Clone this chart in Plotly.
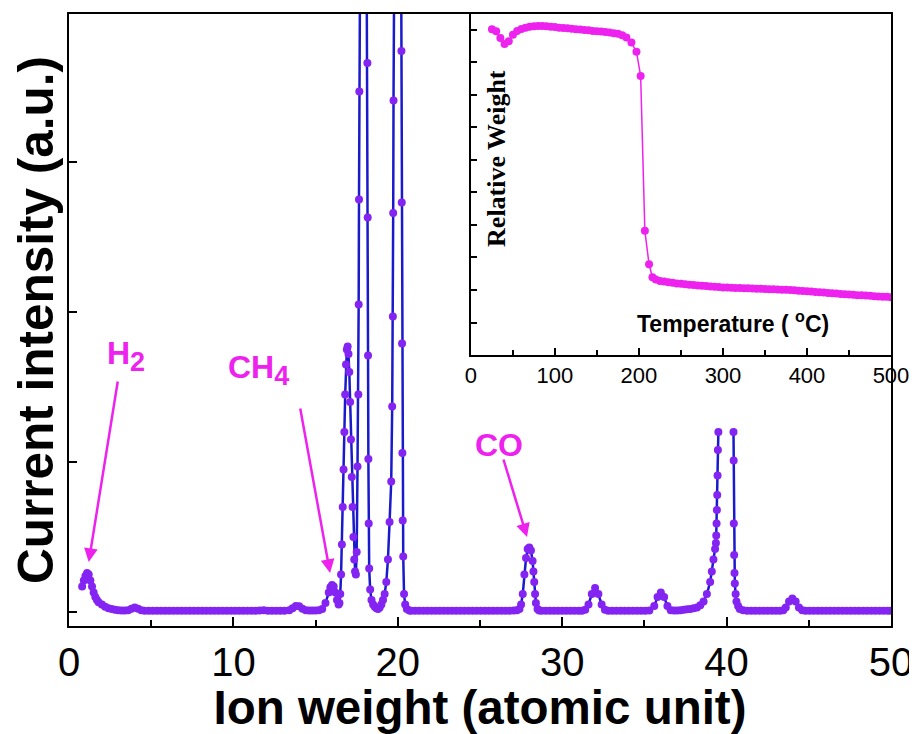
import plotly.graph_objects as go

# ---------------- Mass spectrum (main panel) ----------------
h2_mz = [0.8, 0.9, 1.0, 1.1, 1.2, 1.3, 1.4, 1.5, 1.6, 1.7, 1.8, 2.0, 2.2, 2.4, 2.6, 2.8,
         3.0, 3.2, 3.4, 3.6, 3.8, 4.0, 4.2, 4.4]
h2_int = [0.17, 0.21, 0.24, 0.26, 0.25, 0.21, 0.17, 0.13, 0.10, 0.08, 0.065, 0.05, 0.035, 0.025, 0.02, 0.015,
          0.012, 0.01, 0.01, 0.012, 0.022, 0.03, 0.022, 0.012]

base1_mz = [4.6, 4.85, 5.1, 5.35, 5.6, 5.85, 6.1, 6.35, 6.6, 6.85, 7.1, 7.35, 7.6, 7.85, 8.1, 8.35,
            8.6, 8.85, 9.1, 9.35, 9.6, 9.85, 10.1, 10.35, 10.6, 10.85, 11.1, 11.35, 11.6, 11.85,
            12.1, 12.35, 12.6, 12.85, 13.1]
base1_int = [0.008, 0.008, 0.008, 0.008, 0.008, 0.008, 0.008, 0.008, 0.008, 0.008, 0.008, 0.008,
             0.008, 0.008, 0.008, 0.008, 0.008, 0.008, 0.008, 0.008, 0.008, 0.008, 0.008, 0.008,
             0.008, 0.008, 0.008, 0.009, 0.011, 0.012, 0.009, 0.008, 0.008, 0.008, 0.009]

ch4_mz = [13.4, 13.6, 13.8, 14.0, 14.2, 14.4, 14.6, 14.8, 15.0, 15.2, 15.4, 15.6, 15.8, 15.9,
          16.0, 16.1, 16.2, 16.3, 16.4, 16.45, 16.5]
ch4_int = [0.012, 0.025, 0.04, 0.038, 0.022, 0.012, 0.01, 0.01, 0.01, 0.012, 0.02, 0.06, 0.13, 0.165,
           0.18, 0.17, 0.13, 0.08, 0.05, 0.06, 0.12]

water_mz = [16.55, 16.6, 16.65, 16.7, 16.75, 16.8, 16.85, 16.9, 16.95, 17.0, 17.05, 17.1, 17.15,
            17.2, 17.25, 17.3, 17.35, 17.4, 17.45, 17.5, 17.55, 17.6, 17.62, 17.64, 17.66, 17.75,
            17.9, 18.05, 18.15, 18.17, 18.19, 18.21, 18.23, 18.26, 18.32, 18.4, 18.5, 18.6, 18.7,
            18.8, 18.9, 19.0, 19.1, 19.2, 19.3, 19.4, 19.5, 19.6, 19.66, 19.7, 19.72, 19.74, 19.85,
            20.0, 20.15, 20.22, 20.24, 20.26, 20.28, 20.3, 20.33, 20.38, 20.45, 20.55, 20.7]
water_int = [0.25, 0.45, 0.7, 0.95, 1.2, 1.45, 1.65, 1.75, 1.77, 1.72, 1.6, 1.4, 1.15,
             0.9, 0.7, 0.5, 0.35, 0.27, 0.25, 0.4, 0.97, 1.45, 2.05, 2.75, 3.47, 6.0,
             9.0, 6.0, 3.66, 2.63, 1.71, 1.02, 0.59, 0.29, 0.15, 0.08, 0.05, 0.035, 0.025,
             0.02, 0.03, 0.05, 0.08, 0.12, 0.2, 0.35, 0.6, 0.87, 1.37, 1.97, 2.66, 3.41, 6.0,
             9.0, 6.0, 3.74, 2.73, 1.79, 1.06, 0.61, 0.37, 0.12, 0.05, 0.02, 0.01]

base2_mz = [20.8, 21.05, 21.3, 21.55, 21.8, 22.05, 22.3, 22.55, 22.8, 23.05, 23.3, 23.55, 23.8,
            24.05, 24.3, 24.55, 24.8, 25.05, 25.3, 25.55, 25.8, 26.05, 26.3, 26.55, 26.8, 27.05, 27.25]
base2_int = [0.008, 0.008, 0.008, 0.008, 0.008, 0.008, 0.008, 0.008, 0.008, 0.008, 0.008, 0.008,
             0.008, 0.008, 0.008, 0.008, 0.008, 0.008, 0.008, 0.008, 0.008, 0.008, 0.008, 0.009,
             0.009, 0.01, 0.012]

co_mz = [27.4, 27.5, 27.6, 27.7, 27.8, 27.9, 28.0, 28.1, 28.2, 28.25, 28.3, 28.35, 28.4, 28.5, 28.6]
co_int = [0.02, 0.05, 0.12, 0.25, 0.36, 0.42, 0.43, 0.41, 0.34, 0.27, 0.2, 0.12, 0.06, 0.02, 0.01]

base3_mz = [28.75, 29.0, 29.25, 29.5, 29.75, 30.0, 30.25, 30.5, 30.75, 31.0, 31.2]
base3_int = [0.008, 0.008, 0.008, 0.009, 0.009, 0.008, 0.008, 0.008, 0.008, 0.008, 0.009]

o2_mz = [31.4, 31.6, 31.8, 32.0, 32.2, 32.4, 32.6]
o2_int = [0.015, 0.05, 0.12, 0.16, 0.12, 0.05, 0.015]

base4_mz = [32.8, 33.05, 33.3, 33.55, 33.8, 34.05, 34.3, 34.55, 34.8, 35.05, 35.3]
base4_int = [0.009, 0.008, 0.008, 0.008, 0.008, 0.008, 0.008, 0.008, 0.008, 0.008, 0.01]

p36_mz = [35.6, 35.8, 36.0, 36.2, 36.4, 36.6, 36.8, 37.0, 37.2, 37.4, 37.6, 37.8, 38.0, 38.2, 38.4,
          38.6, 38.8, 39.0, 39.1, 39.2, 39.3, 39.35, 39.37, 39.39, 39.41, 39.43, 39.45, 39.47, 39.5]
p36_int = [0.04, 0.10, 0.13, 0.10, 0.04, 0.012, 0.01, 0.01, 0.012, 0.015, 0.018, 0.02, 0.025, 0.03, 0.045,
           0.07, 0.12, 0.2, 0.27, 0.35, 0.42, 0.46, 0.51, 0.59, 0.68, 0.78, 0.91, 1.08, 1.2]

ar_mz = [40.42, 40.43, 40.44, 40.46, 40.48, 40.5, 40.55, 40.6, 40.7, 40.8, 41.0]
ar_int = [1.2, 1.01, 0.59, 0.38, 0.26, 0.19, 0.12, 0.07, 0.04, 0.02, 0.012]

base5_mz = [41.25, 41.5, 41.75, 42.0, 42.25, 42.5, 42.75, 43.0, 43.25, 43.45]
base5_int = [0.009, 0.008, 0.008, 0.008, 0.008, 0.008, 0.008, 0.008, 0.009, 0.012]

co2_mz = [43.6, 43.8, 44.0, 44.2, 44.4, 44.6]
co2_int = [0.03, 0.07, 0.09, 0.07, 0.03, 0.012]

base6_mz = [44.8, 45.05, 45.3, 45.55, 45.8, 46.05, 46.3, 46.55, 46.8, 47.05, 47.3, 47.55, 47.8,
            48.05, 48.3, 48.55, 48.8, 49.05, 49.3, 49.55, 49.8, 50.0]
base6_int = [0.009, 0.008, 0.008, 0.008, 0.008, 0.008, 0.008, 0.008, 0.008, 0.008, 0.008, 0.008,
             0.008, 0.008, 0.008, 0.008, 0.008, 0.008, 0.008, 0.008, 0.008, 0.008]

mz = (h2_mz + base1_mz + ch4_mz + water_mz + base2_mz + co_mz + base3_mz + o2_mz + base4_mz
      + p36_mz + [None] + ar_mz + base5_mz + co2_mz + base6_mz)
intensity = (h2_int + base1_int + ch4_int + water_int + base2_int + co_int + base3_int + o2_int
             + base4_int + p36_int + [None] + ar_int + base5_int + co2_int + base6_int)

main_xticks = [0, 10, 20, 30, 40, 50]
main_yticks = [0, 1, 2, 3]

# ---------------- TGA inset ----------------
temp = [25, 30, 35, 40, 45, 50, 55, 60, 65, 70, 75, 80, 85, 90, 95, 100, 105, 110, 115, 120,
        125, 130, 135, 140, 145, 150, 155, 160, 165, 170, 175, 180, 185, 191, 197, 202, 207, 212,
        216, 220, 225, 230, 235, 240, 245, 250, 255, 260, 265, 270, 275, 280, 285, 290, 295, 300,
        305, 310, 315, 320, 325, 330, 335, 340, 345, 350, 355, 360, 365, 370, 375, 380, 385, 390,
        395, 400, 405, 410, 415, 420, 425, 430, 435, 440, 445, 450, 455, 460, 465, 470, 475, 480,
        485, 490, 495, 500]
weight = [1.002, 0.996, 0.975, 0.957, 0.965, 0.985, 0.997, 1.003, 1.007, 1.010, 1.011, 1.012,
          1.012, 1.011, 1.010, 1.009, 1.007, 1.006, 1.005, 1.004, 1.002, 1.001, 1.000, 0.999,
          0.997, 0.996, 0.995, 0.994, 0.992, 0.990, 0.988, 0.984, 0.977, 0.961, 0.933, 0.858,
          0.382, 0.279, 0.239, 0.232, 0.228, 0.226, 0.224, 0.222, 0.220, 0.219, 0.218, 0.216,
          0.215, 0.214, 0.213, 0.212, 0.211, 0.210, 0.209, 0.208, 0.2075, 0.207, 0.2065, 0.206,
          0.2055, 0.205, 0.2045, 0.204, 0.2035, 0.203, 0.2025, 0.202, 0.2015, 0.201, 0.2005,
          0.200, 0.199, 0.198, 0.197, 0.196, 0.195, 0.194, 0.193, 0.192, 0.191, 0.190, 0.189,
          0.188, 0.187, 0.186, 0.185, 0.184, 0.1835, 0.183, 0.182, 0.181, 0.180, 0.1795, 0.179,
          0.178]
inset_xticks = [0, 100, 200, 300, 400, 500]
inset_yticks = [0.1, 0.2, 0.3, 0.4, 0.5, 0.6, 0.7, 0.8, 0.9, 1.0]

MAGENTA = "#EE22EE"
SANS = "Liberation Sans, Arial, sans-serif"

fig = go.Figure()
fig.add_trace(go.Scatter(
    x=mz, y=intensity, mode="lines+markers", connectgaps=False,
    line=dict(color="#1A1ACD", width=2.5),
    marker=dict(color="#8424F2", size=8),
    showlegend=False, hoverinfo="skip"))
fig.add_trace(go.Scatter(
    x=temp, y=weight, xaxis="x2", yaxis="y2", mode="lines+markers",
    line=dict(color=MAGENTA, width=1.5),
    marker=dict(color=MAGENTA, size=8),
    showlegend=False, hoverinfo="skip"))

axis_common = dict(showline=True, linecolor="black", linewidth=2, showgrid=False,
                   zeroline=False, ticks="inside", tickcolor="black", tickwidth=2,
                   automargin=False)

# The page body adds an 8px offset, so the figure is 8px smaller than the window.
fig.update_layout(
    template="none",
    width=909, height=726,
    margin=dict(l=61, r=26, t=6, b=108),
    paper_bgcolor="white", plot_bgcolor="white",
    xaxis=dict(axis_common, domain=[0, 1], range=[0, 50], tickmode="array",
               tickvals=main_xticks, ticklen=9, mirror=True,
               minor=dict(dtick=5, ticks="inside", ticklen=6, tickwidth=2, tickcolor="black"),
               tickfont=dict(family=SANS, size=40, color="black"),
               title=dict(text="<b>Ion weight (atomic unit)</b>", standoff=0,
                          font=dict(family=SANS, size=47.5, color="black"))),
    yaxis=dict(axis_common, domain=[0, 1], range=[-0.093, 3.987], tickmode="array",
               tickvals=main_yticks, ticklen=8, mirror=True, showticklabels=False,
               title=dict(text="<b>Current intensity (a.u.)</b>", standoff=3,
                          font=dict(family=SANS, size=49.5, color="black"))),
    xaxis2=dict(axis_common, domain=[0.489, 1.0], anchor="y2", range=[0, 500], tickmode="array",
                tickvals=inset_xticks, ticklen=7,
                minor=dict(dtick=50, ticks="inside", ticklen=5, tickwidth=2, tickcolor="black"),
                tickfont=dict(family=SANS, size=22, color="black")),
    yaxis2=dict(axis_common, domain=[0.4428, 1.0], anchor="x2", range=[0, 1.049], tickmode="array",
                tickvals=inset_yticks, ticklen=6, showticklabels=False),
)

def arrow(x, y, ax, ay):
    return dict(x=x, y=y, ax=ax, ay=ay, xref="x", yref="y", axref="x", ayref="y", text="",
                showarrow=True, arrowhead=2, arrowsize=1.1, arrowwidth=2.5, arrowcolor=MAGENTA)

label_font = dict(family=SANS, size=32, color=MAGENTA)
annotations = [
    arrow(1.2, 0.333, 2.98, 1.547),
    arrow(15.88, 0.26, 14.05, 1.367),
    arrow(27.86, 0.5, 26.4, 1.027),
    dict(x=2.16, y=1.86, xref="x", yref="y", xanchor="left", yanchor="top", showarrow=False,
         text="<b>H<sub><span style='font-size:27px'>2</span></sub></b>", font=label_font),
    dict(x=9.55, y=1.77, xref="x", yref="y", xanchor="left", yanchor="top", showarrow=False,
         text="<b>CH<sub><span style='font-size:27px'>4</span></sub></b>", font=label_font),
    dict(x=24.6, y=1.117, xref="x", yref="y", xanchor="left", yanchor="middle", showarrow=False,
         text="<b>CO</b>", font=label_font),
    dict(x=29.7, y=0.606, xref="x2", yref="y2", showarrow=False, textangle=-90,
         text="<b>Relative Weight</b>",
         font=dict(family="Liberation Serif, Times New Roman, serif", size=26, color="black")),
    dict(x=312, y=0.101, xref="x2", yref="y2", showarrow=False,
         text="<b>Temperature ( <sup>o</sup>C)</b>",
         font=dict(family=SANS, size=23, color="black")),
]
fig.update_layout(annotations=annotations)

fig.write_html("out.html")
